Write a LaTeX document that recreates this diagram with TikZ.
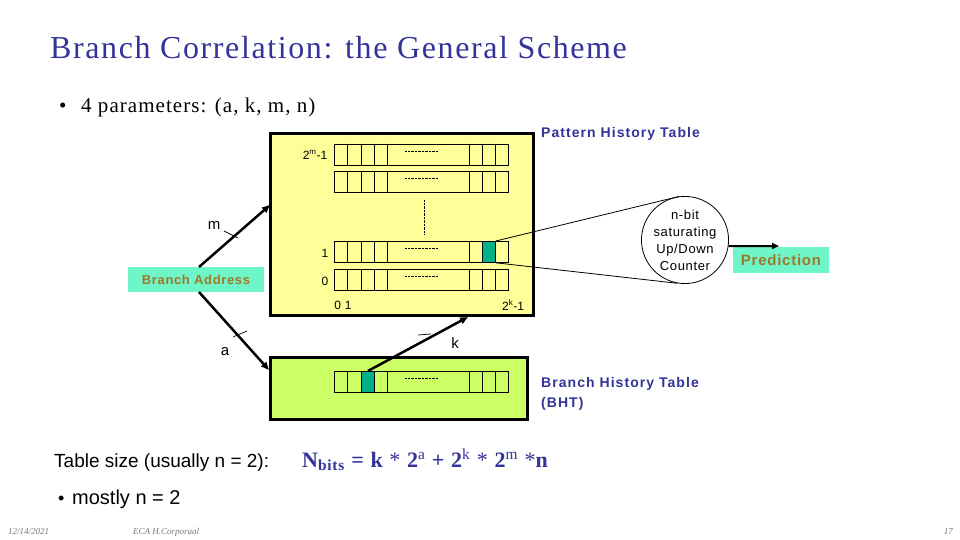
\documentclass[tikz,border=0pt]{standalone}
\usepackage{fontspec}
\setmainfont{Liberation Serif}
\newfontfamily\arial{Liberation Sans}
\newfontfamily\arialls[LetterSpace=5.0]{Liberation Sans}
\newfontfamily\arialwide[LetterSpace=7.5]{Liberation Sans}
\newfontfamily\timesls[LetterSpace=5.0]{Liberation Serif}
\usetikzlibrary{arrows.meta,calc}
\definecolor{titleblue}{RGB}{51,51,153}
\definecolor{phtyellow}{RGB}{255,255,153}
\definecolor{bhtgreen}{RGB}{204,255,102}
\definecolor{aquabox}{RGB}{110,245,200}
\definecolor{tealcell}{RGB}{0,176,136}
\definecolor{olivetext}{RGB}{160,120,40}
\definecolor{footgray}{RGB}{120,120,120}
\tikzset{
  bigbox/.style={draw=black, line width=3pt, inner sep=0pt},
  rowbox/.style={draw=black, line width=0.8pt, minimum width=174pt, minimum height=21pt, inner sep=0pt, anchor=north west},
  tealbox/.style={draw=black, line width=0.8pt, fill=tealcell, minimum width=13pt, minimum height=21pt, inner sep=0pt, anchor=north west},
  bus/.style={line width=2.5pt, -{Triangle[length=8pt,width=6.5pt]}},
  tick/.style={line width=0.7pt},
  lbl/.style={font=\arial\fontsize{12}{14}\selectfont, inner sep=0pt},
  buslbl/.style={font=\arial\fontsize{15}{17}\selectfont, inner sep=0pt},
  aqualbl/.style={fill=aquabox, inner sep=0pt, text=olivetext, font=\arialls\bfseries\fontsize{13}{15}\selectfont},
  bluelbl/.style={text=titleblue, inner sep=0pt, font=\arialwide\bfseries\fontsize{14}{20}\selectfont},
  foot/.style={text=footgray, inner sep=0pt, font=\itshape\fontsize{9}{10}\selectfont}
}
\begin{document}
\begin{tikzpicture}[x=1pt,y=-1pt]
\useasboundingbox (0,0) rectangle (960,540);
\fill[white] (0,0) rectangle (960,540);

% title and bullet
\node[anchor=base west, inner sep=0pt, text=titleblue, font=\timesls\fontsize{32}{36}\selectfont] (title) at (50,59) {Branch Correlation: the General Scheme};
\node[anchor=base west, inner sep=0pt, font=\fontsize{21}{24}\selectfont] (b1dot) at (59,113) {\textbullet};
\node[anchor=base west, inner sep=0pt, font=\timesls\fontsize{21}{24}\selectfont] (b1) at (81,113) {4 parameters: (a, k, m, n)};

% PHT
\node[bigbox, fill=phtyellow, minimum width=263pt, minimum height=181pt] (pht) at (401.5,224.5) {};
% BHT
\node[bigbox, fill=bhtgreen, minimum width=257pt, minimum height=62pt] (bht) at (398.5,388) {};

% rows
\foreach \nm/\yt in {r3/144, r2/171, r1/241, r0/269, bh/371} {
  \node[rowbox] (\nm) at (334,\yt) {};
}
\node[tealbox] (t1) at (482,241) {};
\node[tealbox] (tb) at (361,371) {};
\foreach \yt in {144, 171, 241, 269, 371} {
  \foreach \x in {347.5,361,374,387,469,482,495} \draw[line width=0.8pt] (\x,\yt) -- ++(0,21);
  \draw[line width=0.6pt, dash pattern=on 0.6pt off 0.8pt] (405,\yt+7) -- (438,\yt+7);
}
\draw[line width=0.6pt, dash pattern=on 0.6pt off 0.8pt] (424,200) -- (424,234);

% row labels
\node[lbl] (lm) at (315,155) {2\textsuperscript{m}-1};
\node[lbl] (l1) at (325,253) {1};
\node[lbl] (l0) at (325,281) {0};
\node[lbl] (l01) at (343,305) {0\,\,1};
\node[lbl] (lk) at (513,305) {2\textsuperscript{k}-1};

% branch address
\node[aqualbl, minimum width=136pt, minimum height=25pt] (ba) at (196,279.5) {Branch Address};

% bus arrows
\coordinate (pm) at (270,205);
\coordinate (ba1) at (199,267);
\coordinate (ba2) at (199,292);
\coordinate (bin) at (269,370);
\coordinate (pk) at (468,317);
\draw[bus] (ba1) -- (pm);
\draw[bus] (ba2) -- (bin);
\draw[bus] (tb.north) -- (pk);
\draw[tick] (224,231) -- (238,238);
\draw[tick] (233,337) -- (247,331);
\draw[tick] (418,335) -- (431,334);
\node[buslbl] (lblm) at (214,225) {m};
\node[buslbl] (lbla) at (225,352) {a};
\node[buslbl] (lblk) at (455,343) {k};

% counter
\node[draw, circle, line width=0.8pt, minimum size=86pt, inner sep=0pt, align=center, font=\arialls\fontsize{13}{17}\selectfont] (ctr) at (685,240) {n-bit\\saturating\\Up/Down\\Counter};
\draw[line width=0.8pt] (t1.north east) -- (ctr.98);
\draw[line width=0.8pt] (t1.south east) -- (ctr.-100);

% prediction
\node[aqualbl, font=\arialls\bfseries\fontsize{15}{17}\selectfont, minimum width=96pt, minimum height=26pt] (pred) at (781,260) {Prediction};
\coordinate (pe) at (779,246);
\draw[line width=2pt, -{Triangle[length=7pt,width=6pt]}] (ctr.-8) -- (pe);

% table labels
\node[bluelbl, anchor=base west] (phtl) at (541,138) {Pattern History Table};
\node[bluelbl, anchor=north west, align=left] (bhtl) at (541,377) {Branch History Table\\(BHT)};

% bottom text
\node[anchor=base west, inner sep=0pt, font=\arial\fontsize{19}{22}\selectfont] (ts) at (54,467) {Table size (usually n = 2):};
\node[anchor=base west, inner sep=0pt, text=titleblue, font=\timesls\bfseries\fontsize{22}{26}\selectfont] (fm) at (302,467) {N\textsubscript{bits} = k {\mdseries*} 2\textsuperscript{\mdseries a} + 2\textsuperscript{\mdseries k} {\mdseries*} 2\textsuperscript{\mdseries m} {\mdseries*}n};
\node[anchor=base west, inner sep=0pt, font=\arial\fontsize{18}{22}\selectfont] (b2dot) at (58,504) {\textbullet};
\node[anchor=base west, inner sep=0pt, font=\arial\fontsize{20}{22}\selectfont] (b2) at (72,504) {mostly n = 2};

% footer
\node[foot, anchor=base west] (fd) at (8,534) {12/14/2021};
\node[foot, anchor=base west] (fa) at (133,534) {ECA H.Corporaal};
\node[foot, anchor=base east] (fp) at (953,534) {17};
\end{tikzpicture}
\end{document}
